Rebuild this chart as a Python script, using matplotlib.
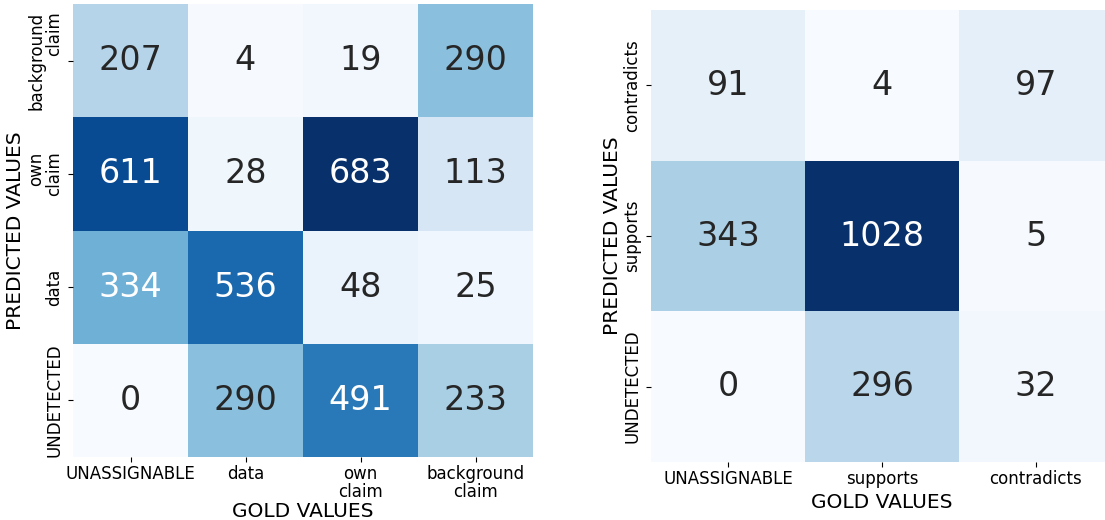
import matplotlib
matplotlib.use("Agg")
import matplotlib.pyplot as plt
import seaborn as sns
import numpy as np

# left confusion matrix (4 classes)
gold_4 = ["UNASSIGNABLE", "data", "own\nclaim", "background\nclaim"]
pred_4 = ["background\nclaim", "own\nclaim", "data", "UNDETECTED"]
cm_4 = np.array([
    [207, 4, 19, 290],
    [611, 28, 683, 113],
    [334, 536, 48, 25],
    [0, 290, 491, 233],
])

# right confusion matrix (3 classes)
gold_3 = ["UNASSIGNABLE", "supports", "contradicts"]
pred_3 = ["contradicts", "supports", "UNDETECTED"]
cm_3 = np.array([
    [91, 4, 97],
    [343, 1028, 5],
    [0, 296, 32],
])

W, H = 1105, 520
fig = plt.figure(figsize=(W / 100, H / 100), dpi=100)
ax1 = fig.add_axes([73 / W, 1 - 457 / H, 460 / W, 453 / H])
ax2 = fig.add_axes([651 / W, 1 - 462 / H, 462 / W, 452 / H])

for ax, cm, xl, yl in [(ax1, cm_4, gold_4, pred_4), (ax2, cm_3, gold_3, pred_3)]:
    sns.heatmap(cm, ax=ax, cmap="Blues", annot=True, fmt="d", cbar=False,
                annot_kws={"fontsize": 24}, xticklabels=xl, yticklabels=yl)
    ax.tick_params(axis="both", labelsize=12)
    ax.tick_params(axis="x", pad=2)
    ax.set_yticklabels(yl, rotation=90, va="center", linespacing=1.0)
    ax.set_xticklabels(xl, rotation=0, linespacing=1.0)
    ax.set_xlabel("GOLD VALUES", fontsize=14.5)
    ax.set_ylabel("PREDICTED VALUES", fontsize=14.5)

ax1.xaxis.set_label_coords(0.5, -0.1)
ax1.yaxis.set_label_coords(-0.104, 0.5)
ax2.xaxis.set_label_coords(0.5, -0.068)
ax2.yaxis.set_label_coords(-0.063, 0.5)

fig.savefig("out.png", dpi=100)
